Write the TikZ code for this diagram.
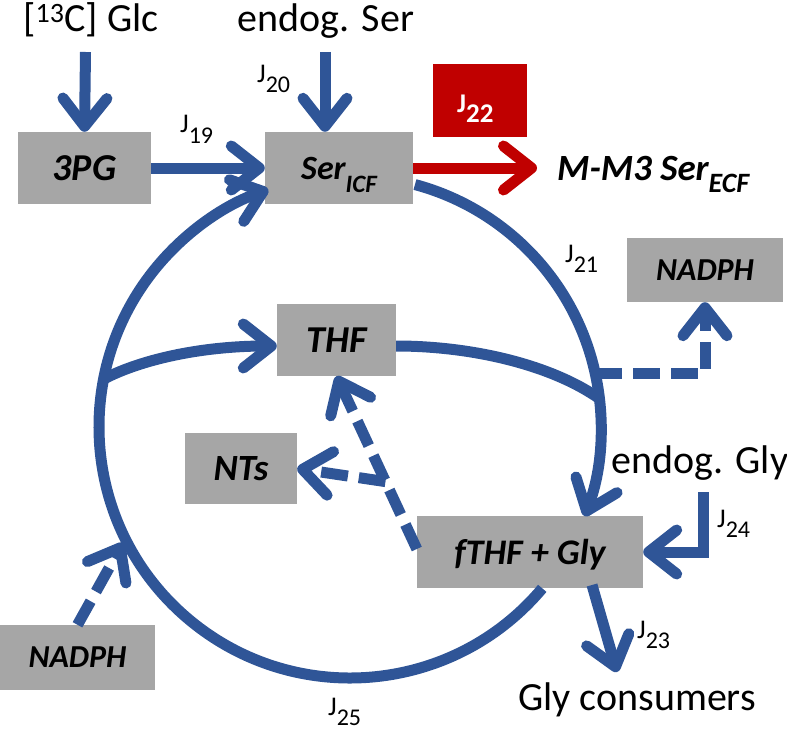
\documentclass[tikz,border=0pt]{standalone}
\usepackage{fontspec}
\setmainfont{Carlito}
\usetikzlibrary{arrows.meta,calc}
\definecolor{flowblue}{RGB}{47,85,151}
\definecolor{boxgray}{RGB}{166,166,166}
\definecolor{jred}{RGB}{192,0,0}
\newcommand{\Jlab}[2][24pt]{J\raisebox{-10pt}[0pt][0pt]{\fontsize{#1}{#1}\selectfont #2}}
\newcommand{\sublow}[2]{\raisebox{-13pt}[0pt][0pt]{\fontsize{#1}{#1}\selectfont #2}}
\begin{document}
\begin{tikzpicture}[x=1pt,y=-1pt,
  box/.style={fill=boxgray, inner sep=0pt, text depth=0pt, font=\fontsize{37pt}{40pt}\selectfont\bfseries\itshape},
  lbl/.style={inner sep=0pt, anchor=base, font=\fontsize{40pt}{44pt}\selectfont},
  jl/.style={inner sep=0pt, anchor=base west, font=\fontsize{27pt}{29pt}\selectfont},
  flow/.style={draw=flowblue, line width=11pt, -{Straight Barb[length=28pt,width=44pt,round]}},
  plain/.style={draw=flowblue, line width=11pt},
  dflow/.style={flow, dash pattern=on 27pt off 11pt},
]
\useasboundingbox (0,0) rectangle (787,733);
\coordinate (c) at (350,427);

% boxes
\node[box, minimum width=133pt, minimum height=72pt, font=\fontsize{38pt}{40pt}\selectfont\bfseries\itshape] (pg) at (84.5,168) {3PG};
\node[box, minimum width=148pt, minimum height=72pt, font=\fontsize{34pt}{40pt}\selectfont\bfseries\itshape] (ser) at (339,168) {Ser\sublow{25pt}{ICF}};
\node[fill=jred, minimum width=94pt, minimum height=73pt, inner sep=0pt] (jbox) at (480,100.5) {};
\node[box, minimum width=119pt, minimum height=72pt, font=\fontsize{38pt}{40pt}\selectfont\bfseries\itshape] (thf) at (336.5,340) {THF};
\node[box, minimum width=112pt, minimum height=71pt] (nts) at (241,468.5) {NTs};
\node[box, minimum width=156pt, minimum height=64pt, font=\fontsize{32pt}{34pt}\selectfont\bfseries\itshape] (nr) at (705,270) {NADPH};
\node[box, minimum width=226pt, minimum height=72pt, font=\fontsize{36pt}{40pt}\selectfont\bfseries\itshape] (ft) at (530,552) {fTHF + Gly};
\node[box, minimum width=155pt, minimum height=65pt, font=\fontsize{32pt}{34pt}\selectfont\bfseries\itshape] (nl) at (77.5,657.5) {NADPH};

% labels
\node[lbl] (glc) at (91,32) {[\textsuperscript{13}C] Glc};
\node[lbl] (eser) at (326,32) {endog. Ser};
\node[lbl] (egly) at (700,473) {endog. Gly};
\node[lbl] (cons) at (637,710) {Gly consumers};
\node[inner sep=0pt, anchor=base west, font=\fontsize{37pt}{40pt}\selectfont\bfseries\itshape] (mm) at (557,180) {M-M3 Ser\sublow{28pt}{ECF}};
\node[jl] (j19) at (180,133) {\Jlab{19}};
\node[jl] (j20) at (257,83) {\Jlab{20}};
\node[jl] (j21) at (565,262) {\Jlab{21}};
\node[jl, text=white, font=\fontsize{27pt}{29pt}\selectfont\bfseries] (j22) at (457,113) {\Jlab[27pt]{22}};
\node[jl] (j23) at (637,638) {\Jlab{23}};
\node[jl] (j24) at (717,527) {\Jlab{24}};
\node[jl] (j25) at (328,715) {\Jlab{25}};

% coordinates
\coordinate (g0) at (85.5,52);
\coordinate (s0) at (325,52);
\coordinate (r1) at (537,168);
\coordinate (a0) at ($(c)+(-75:251)$);
\coordinate (b0) at ($(c)+(40:251)$);
\coordinate (jl1) at ($(c)+(191:251)$);
\coordinate (jr1) at ($(c)+(-6.5:251)$);
\coordinate (d0) at ($(c)+(-12.4:251)$);
\coordinate (f0) at ($(ft.west)+(0,-3)$);
\coordinate (n0) at ($(f0)!0.39!(thf.south)$);
\coordinate (n1) at (123,543);
\coordinate (g24) at (703,492);
\coordinate (g23a) at (592,585);
\coordinate (g23b) at (617,672);

% connectors
\draw[flow] (g0) -- (pg.north);
\draw[flow] (s0) -- (s0 |- ser.north);
\draw[flow] (pg.east) -- (ser.west);
\draw[flow, draw=jred] (ser.east) -- (r1);
\draw[flow] (a0) arc[start angle=-75, end angle=20.8, radius=251];
\draw[flow] (b0) arc[start angle=40, end angle=251, radius=251];
\draw[flow] (jl1) .. controls (140,360) and (200,346) .. ([yshift=-6pt]thf.west);
\draw[plain] ([yshift=-6pt]thf.east) .. controls (470,346) and (550,364) .. (jr1);
\draw[dflow] (d0) -| (nr.south);
\draw[dflow] (f0) -- (thf.south);
\draw[dflow] (n0) -- (nts.east);
\draw[dflow] (nl.north) -- (n1);
\draw[flow] (g24) |- (ft.east);
\draw[flow] (g23a) -- (g23b);
\end{tikzpicture}
\end{document}
